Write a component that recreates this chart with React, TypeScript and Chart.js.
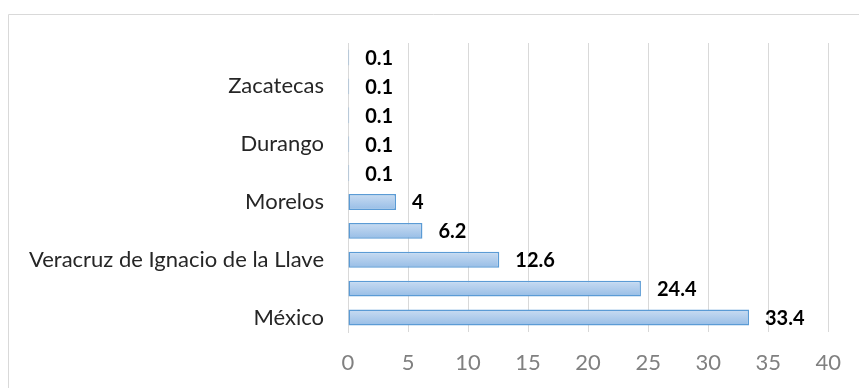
import React, { useEffect, useRef } from "react";
import { Chart, registerables } from "chart.js";

Chart.register(...registerables);

const categories = ["", "Zacatecas", "", "Durango", "", "Morelos", "", "Veracruz de Ignacio de la Llave", "", "México"];
const values = [0.1, 0.1, 0.1, 0.1, 0.1, 4, 6.2, 12.6, 24.4, 33.4];
const xTicks = [0, 5, 10, 15, 20, 25, 30, 35, 40];

const FONT = "Lato";

const frame = {
  id: "frame",
  beforeDraw(chart: any) {
    const c = chart.ctx;
    c.save();
    c.strokeStyle = "#d9d9d9";
    c.lineWidth = 1;
    c.beginPath();
    c.moveTo(8.5, chart.height);
    c.lineTo(8.5, 14.5);
    c.lineTo(chart.width, 14.5);
    c.stroke();
    c.restore();
  },
};

const valueLabels = {
  id: "valueLabels",
  afterDatasetsDraw(chart: any) {
    const c = chart.ctx;
    const meta = chart.getDatasetMeta(0);
    c.save();
    c.font = `bold 20px ${FONT}`;
    c.fillStyle = "#000";
    c.textAlign = "left";
    c.textBaseline = "middle";
    meta.data.forEach((el: any, i: number) => {
      c.fillText(String(values[i]), el.x + 16, el.y + 1);
    });
    c.restore();
  },
};

export default function App() {
  const ref = useRef<HTMLCanvasElement>(null);
  useEffect(() => {
    const chart = new Chart(ref.current!, {
      type: "bar",
      data: {
        labels: categories,
        datasets: [
          {
            data: values,
            backgroundColor: (ctx: any) => {
              const ch = ctx.chart;
              const ys = ch.scales && ch.scales.y;
              if (!ch.chartArea || !ys || ctx.dataIndex === undefined) return "#adc9ea";
              const y = ys.getPixelForValue(ctx.dataIndex);
              const g = ch.ctx.createLinearGradient(0, y - 8, 0, y + 8);
              g.addColorStop(0, "#c9dcf2");
              g.addColorStop(1, "#97bde6");
              return g;
            },
            borderColor: "#5b9bd5",
            borderWidth: 1.5,
            borderSkipped: false,
            categoryPercentage: 1,
            barPercentage: 0.55,
          },
        ],
      },
      options: {
        indexAxis: "y",
        animation: false,
        responsive: false,
        maintainAspectRatio: false,
        layout: { padding: { top: 43, right: 27, left: 0, bottom: 0 } },
        plugins: { legend: { display: false }, tooltip: { enabled: false } },
        scales: {
          x: {
            min: 0,
            max: 40,
            afterBuildTicks: (s: any) => {
              s.ticks = xTicks.map((v) => ({ value: v }));
            },
            grid: { color: "#d9d9d9", lineWidth: 1, drawTicks: false },
            border: { display: false },
            ticks: { color: "#808080", font: { family: FONT, size: 22 }, padding: 18 },
            afterFit: (s: any) => {
              s.height = 388 - 332;
            },
          },
          y: {
            grid: { display: false, drawTicks: false },
            border: { display: true, color: "#d9d9d9" },
            ticks: { color: "#262626", font: { family: FONT, size: 22 }, padding: 24, autoSkip: false },
            afterFit: (s: any) => {
              s.width = 348;
            },
          },
        },
      },
      plugins: [frame, valueLabels],
    } as any);
    return () => chart.destroy();
  }, []);
  return (
    <div style={{ position: "fixed", left: 0, top: 0, width: 859, height: 388, background: "#fff" }}>
      <canvas ref={ref} width={859} height={388} style={{ display: "block" }} />
    </div>
  );
}
